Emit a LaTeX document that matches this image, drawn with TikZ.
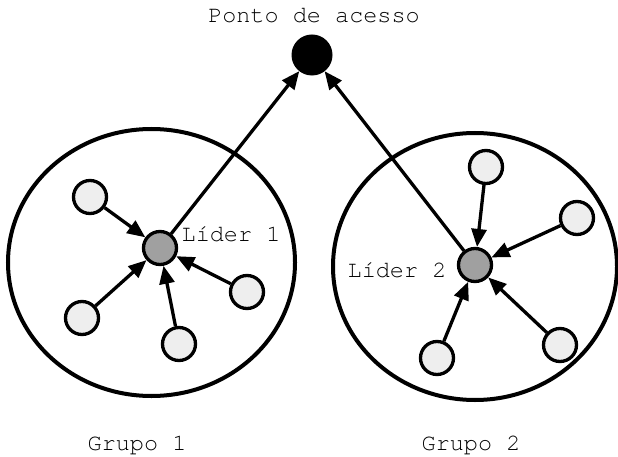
\documentclass[tikz,border=0pt]{standalone}
\usepackage{fontspec}
\setmainfont{texgyrecursor-regular.otf}
\usetikzlibrary{arrows.meta}
\definecolor{lightnode}{HTML}{EEEEEE}
\definecolor{leadnode}{HTML}{A0A0A0}
\tikzset{
  member/.style={circle, draw=black, line width=3.3pt, fill=lightnode, minimum size=33pt, inner sep=0pt},
  leader/.style={circle, draw=black, line width=3.3pt, fill=leadnode, minimum size=33pt, inner sep=0pt},
  apnode/.style={circle, draw=black, line width=1pt, fill=black, minimum size=40pt, inner sep=0pt},
  group/.style={draw=black, line width=4pt},
  lbl/.style={font=\fontsize{23.5}{26}\selectfont, inner sep=0pt},
  flow/.style={line width=3.3pt, -{Triangle[length=18pt,width=15pt]}},
}
\begin{document}
\begin{tikzpicture}[x=1pt,y=-1pt]
\useasboundingbox (0,0) rectangle (618,457);
% group boundaries
\draw[group] (151.5,262.5) ellipse [x radius=143.5, y radius=133.5];
\draw[group] (475,266.5) ellipse [x radius=142, y radius=133.5];
% access point
\node[apnode] (ap) at (312,55) {};
\node[lbl] (aplbl) at (314,16) {Ponto de acesso};
% group 1
\node[leader] (l1) at (160,248) {};
\node[member] (a1) at (90,197) {};
\node[member] (b1) at (82,318) {};
\node[member] (c1) at (179,344) {};
\node[member] (d1) at (247,292) {};
\node[lbl] (l1lbl) at (231,234) {Líder 1};
\node[lbl] (g1lbl) at (137,445) {Grupo 1};
% group 2
\node[leader] (l2) at (475,265) {};
\node[member] (a2) at (486,167) {};
\node[member] (b2) at (577,218) {};
\node[member] (c2) at (437,358) {};
\node[member] (d2) at (560,345) {};
\node[lbl] (l2lbl) at (397,270) {Líder 2};
\node[lbl] (g2lbl) at (471,445) {Grupo 2};
% connectors
\draw[flow] (a1) -- (l1);
\draw[flow] (b1) -- (l1);
\draw[flow] (c1) -- (l1);
\draw[flow] (d1) -- (l1);
\draw[flow] (a2) -- (l2);
\draw[flow] (b2) -- (l2);
\draw[flow] (c2) -- (l2);
\draw[flow] (d2) -- (l2);
\draw[flow] (l1) -- (ap);
\draw[flow] (l2) -- (ap);
\end{tikzpicture}
\end{document}
